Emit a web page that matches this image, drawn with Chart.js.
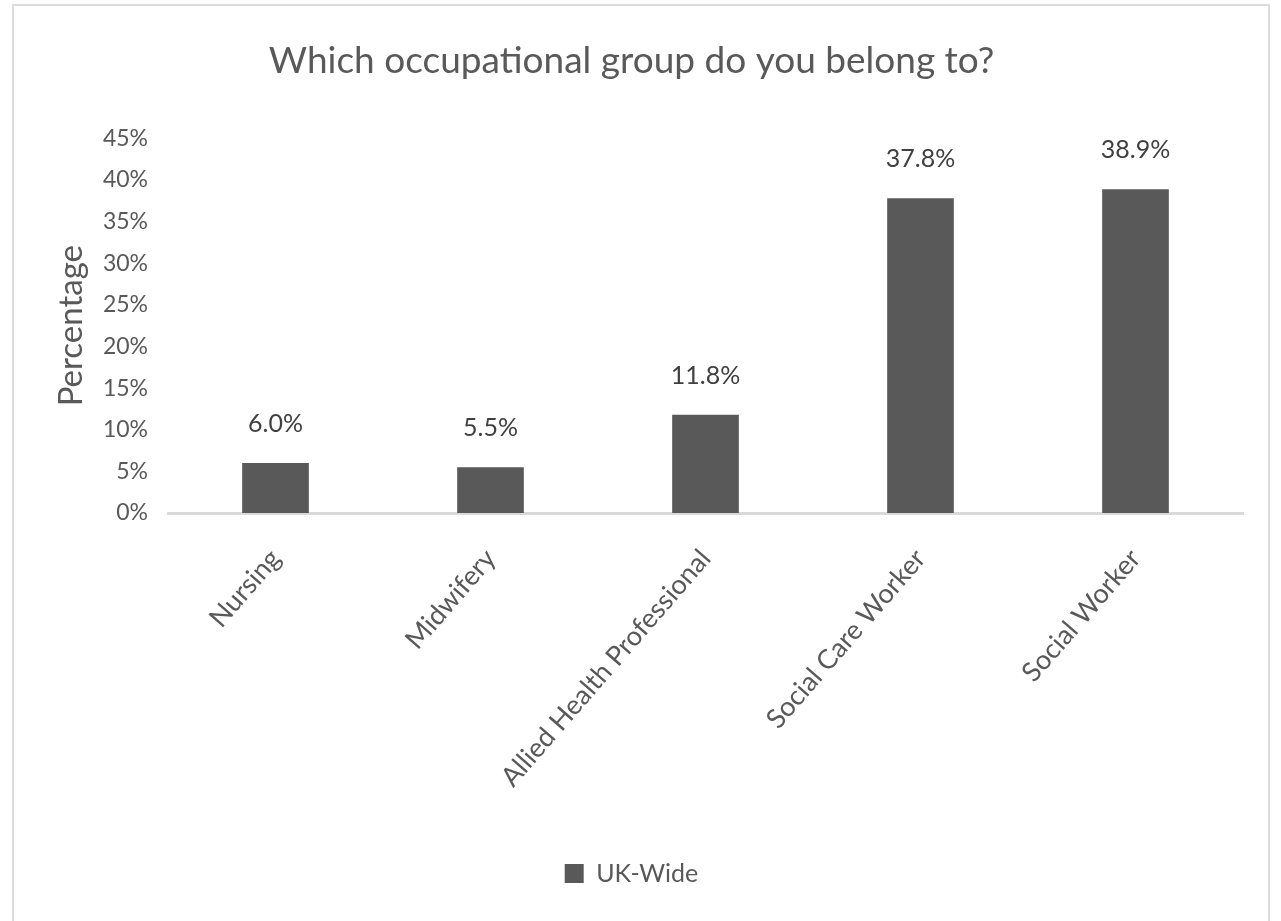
<!DOCTYPE html>
<html>
<head>
<meta charset="utf-8">
<script src="https://cdn.jsdelivr.net/npm/chart.js@4/dist/chart.umd.min.js"></script>
<style>
  html, body { margin: 0; padding: 0; background: #fff; overflow: hidden; }
  #frame { position: absolute; left: 12px; top: 4px; width: 1258px; height: 1000px; border: 2px solid #dcdcdc; box-sizing: border-box; }
  #wrap { position: absolute; left: 0; top: 0; width: 1281px; height: 921px; }
</style>
</head>
<body>
<div id="frame"></div>
<div id="wrap"><canvas id="myChart" width="1281" height="921"></canvas></div>
<script>
/* 데이터 */
var categories = ['Nursing', 'Midwifery', 'Allied Health Professional', 'Social Care Worker', 'Social Worker'];
var ukWide = [6.0, 5.5, 11.8, 37.8, 38.9];
var yTicks = [0, 5, 10, 15, 20, 25, 30, 35, 40, 45];
var seriesName = 'UK-Wide';
var chartTitle = 'Which occupational group do you belong to?';

var fontFamily = 'Lato, "Open Sans", sans-serif';
var textColor = '#595959';

/* 막대 위 값 표시 */
var valueLabels = {
	id: 'valueLabels',
	afterDatasetsDraw: function(chart){
		var ctx = chart.ctx;
		var meta = chart.getDatasetMeta(0);
		ctx.save();
		ctx.font = '25px ' + fontFamily;
		ctx.fillStyle = '#404040';
		ctx.textAlign = 'center';
		ctx.textBaseline = 'middle';
		meta.data.forEach(function(bar, i){
			ctx.fillText(ukWide[i].toFixed(1) + '%', bar.x, bar.y - 39);
		});
		ctx.restore();
	}
};

function createChart(){
	var ctx = document.getElementById('myChart').getContext('2d');
	var myChart = new Chart(ctx, {
		type: 'bar',
		data: {
			labels: categories,
			datasets: [{
				label: seriesName,
				data: ukWide,
				backgroundColor: '#595959',
				borderWidth: 0,
				categoryPercentage: 1,
				barPercentage: 0.31
			}]
		},
		options: {
			responsive: false,
			animation: false,
			layout: { padding: { left: 20, right: 38, top: 10, bottom: 25 } },
			plugins: {
				title: {
					display: true,
					text: chartTitle,
					color: textColor,
					font: { family: fontFamily, size: 37, weight: 'normal' },
					padding: { top: 29, bottom: 55 }
				},
				legend: {
					position: 'bottom',
					labels: {
						color: textColor,
						font: { family: fontFamily, size: 25 },
						boxWidth: 19,
						boxHeight: 19,
						padding: 10
					}
				},
				tooltip: { enabled: false }
			},
			scales: {
				x: {
					grid: { display: false, drawTicks: false },
					border: { display: true, color: '#d9d9d9', width: 3 },
					ticks: {
						color: textColor,
						font: { family: fontFamily, size: 27 },
						maxRotation: 49,
						minRotation: 49,
						padding: 30
					},
					afterFit: function(scale){ scale.height = 338; }
				},
				y: {
					min: 0,
					max: 45,
					grid: { display: false, drawTicks: false },
					border: { display: false },
					afterBuildTicks: function(scale){
						scale.ticks = yTicks.map(function(v){ return { value: v }; });
					},
					ticks: {
						color: textColor,
						font: { family: fontFamily, size: 23 },
						padding: 20,
						callback: function(v){ return v + '%'; }
					},
					title: {
						display: true,
						text: 'Percentage',
						color: textColor,
						font: { family: fontFamily, size: 33 },
						padding: { top: 32, bottom: 0 }
					},
					afterFit: function(scale){ scale.width = 148; }
				}
			}
		},
		plugins: [valueLabels]
	});
}

createChart();
</script>
</body>
</html>
